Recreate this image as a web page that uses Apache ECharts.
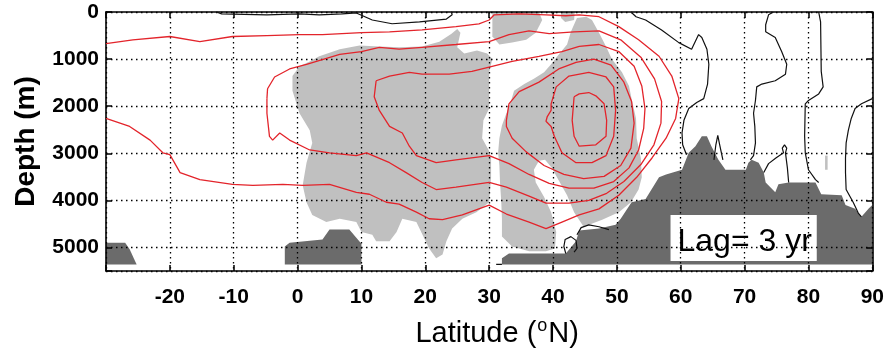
<!DOCTYPE html>
<html><head><meta charset="utf-8">
<script src="https://cdn.jsdelivr.net/npm/echarts@6/dist/echarts.min.js"></script>
<style>html,body{margin:0;padding:0;background:#fff}#c{width:887px;height:356px}</style>
</head><body><div id="c"></div>
<script>
// ---- axes ----
const latRange = [-30, 90];
const latStep = 10;
const depthRange = [0, 5500];
const depthStep = 1000;
const lagLabel = 'Lag= 3 yr';
const lagBox = [[58.4, 4310], [81.3, 5290]];

// ---- light grey shading (significant regions) [lat, depth] ----
const shadeA = [[-0.8,1360],[0.3,1150],[1.9,1050],[3.4,940],[6.6,790],[9.7,710],[12.8,730],[15.9,750],[19.5,730],[22.2,630],[24.1,460],[25.0,360],[25.5,440],[25.0,750],[26.1,880],[28.1,820],[29.7,880],[30.5,1000],[30.0,1280],[30.0,2050],[29.1,2300],[28.9,2680],[30.0,2950],[30.3,3100],[30.3,3510],[30.0,4040],[28.0,4250],[25.8,4390],[24.2,4600],[23.3,4870],[22.7,5150],[21.7,5230],[20.6,5020],[18.6,4460],[16.4,4390],[15.5,4670],[14.4,4870],[12.3,4870],[11.7,4730],[10.0,4670],[9.2,4460],[6.6,4390],[4.5,4460],[2.3,4310],[1.4,4040],[0.8,3680],[1.4,3200],[2.3,2780],[1.9,2510],[0.3,2150],[-0.8,1670]];
const shadeB = [[43.75,130],[45.2,100],[46.1,170],[47.2,440],[48.3,730],[49.2,1000],[50.8,1280],[51.9,1570],[52.3,1840],[53.0,2260],[53.1,2680],[53.75,3100],[53.9,3510],[53.4,3770],[52.2,4040],[50.3,4250],[47.7,4410],[44.8,4560],[43.3,4250],[42.2,3890],[40.9,3580],[39.8,3310],[38.75,3140],[37.8,3160],[37.0,3350],[37.3,3620],[38.6,3930],[39.7,4250],[40.5,4670],[40.3,5020],[38.9,5080],[36.25,5080],[33.6,4980],[32.0,4770],[32.0,4390],[31.9,4040],[31.7,3620],[31.6,3260],[31.4,2990],[31.6,2680],[32.0,2410],[32.7,2150],[33.4,1900],[33.9,1670],[35.5,1530],[37.0,1420],[38.6,1280],[39.7,1110],[40.9,900],[42.2,690],[42.8,420]];
const shadeC = [[30.5,0],[37.8,0],[38.3,170],[37.3,440],[35.8,590],[33.6,650],[31.6,690],[30.5,520]];
const shadeD = [[41.25,0],[43.4,0],[43.3,170],[41.9,210],[41.25,130]];
const shadeE = [[82.6,3050],[83.0,3050],[83.0,3350],[82.6,3350]];

// ---- dark grey bottom topography ----
const topoA = [[-30,4900],[-27.0,4900],[-26.3,5040],[-25.2,5360],[-30,5360]];
const topoB = [[-2.0,5360],[-2.0,4980],[-1.25,4900],[2.3,4850],[3.9,4830],[5.0,4620],[8.1,4620],[10.0,4920],[10.0,5360]];
const topoC = [[32.0,5360],[32.0,5230],[33.1,5130],[42.0,5130],[43.6,4870],[44.1,4640],[47.2,4600],[49.8,4520],[50.6,4390],[52.3,4040],[54.5,3970],[56.6,3510],[57.7,3450],[60.2,3350],[61.25,2990],[62.3,2850],[63.3,2640],[64.1,2640],[64.8,2850],[65.9,3140],[67.0,3350],[70.2,3350],[70.6,3200],[71.1,3140],[72.2,3200],[73.0,3410],[73.3,3620],[74.8,3830],[75.3,3660],[76.9,3620],[81.1,3620],[82.0,3870],[85.2,3890],[85.8,4100],[87.3,4180],[88.3,4350],[89.4,4180],[90,4100],[90,5360]];

// ---- red contours ----
const red1 = [[43.3,1800],[44.1,1740],[45.6,1710],[46.7,1780],[48.0,1950],[48.4,2300],[48.3,2640],[46.7,2820],[44.1,2850],[43.3,2640],[43.0,2300],[43.3,1800]];
const red2 = [[39.7,1950],[40.5,1590],[42.5,1360],[45.6,1280],[48.3,1380],[49.5,1590],[49.8,2090],[49.5,2640],[48.3,3050],[46.1,3200],[43.6,3200],[41.4,2990],[40.2,2640],[39.7,2430],[38.9,2320],[39.1,2220],[39.7,2090],[39.7,1950]];
const red3 = [[32.7,2300],[33.1,1950],[34.7,1690],[37.8,1490],[40.9,1210],[43.6,1070],[46.4,1000],[49.1,1130],[51.1,1490],[52.3,1900],[52.7,2360],[52.2,2890],[50.6,3260],[48.0,3490],[44.8,3540],[41.7,3450],[38.6,3260],[35.8,2970],[33.6,2680],[32.7,2430],[32.7,2300]];
const red4 = [[12.3,1460],[14.4,1360],[17.5,1280],[19.5,1320],[23.75,1320],[27.3,1260],[30.0,1170],[33.6,1050],[37.8,940],[41.4,840],[44.1,730],[47.2,690],[50.3,840],[52.7,1150],[53.9,1570],[54.4,2050],[54.2,2470],[53.4,2930],[51.9,3310],[49.5,3600],[46.4,3740],[42.5,3740],[39.4,3640],[36.25,3450],[33.1,3220],[30.0,3050],[24.8,3140],[21.7,3200],[18.6,3050],[17.5,2850],[16.4,2570],[14.4,2430],[12.8,2090],[12.0,1800],[12.3,1460]];
const red5 = [[-4.8,1840],[-4.7,1630],[-3.6,1380],[-1.25,1210],[1.4,1110],[6.6,900],[10.0,840],[12.8,750],[15.9,790],[19.5,750],[24.8,690],[30.0,630],[33.1,480],[36.25,400],[39.4,460],[43.3,420],[47.2,400],[50.6,590],[53.75,960],[55.9,1420],[57.0,1900],[56.9,2360],[55.8,2820],[53.75,3240],[51.1,3600],[48.4,3850],[45.6,4000],[42.5,4060],[38.9,4060],[36.25,3910],[32.7,3720],[30.0,3620],[24.8,3720],[21.7,3770],[19.5,3620],[17.0,3410],[14.4,3200],[10.8,2990],[9.2,3050],[5.0,2990],[1.9,2930],[-1.25,2720],[-2.8,2570],[-3.9,2720],[-4.4,2640],[-4.8,2150],[-4.8,1840]];
const red6 = [[-30,670],[-25.8,590],[-20.0,520],[-15.3,630],[-10.2,520],[-4.8,500],[0.3,480],[3.9,480],[10.0,440],[14.4,420],[19.5,380],[24.8,310],[28.4,250],[30.0,170],[30.8,60],[34.7,40],[38.9,60],[42.0,80],[44.1,60],[47.2,100],[50.3,310],[53.4,590],[56.6,940],[58.6,1360],[59.7,1840],[59.2,2260],[57.7,2680],[55.5,3100],[53.1,3510],[50.3,3890],[47.2,4180],[44.1,4310],[41.4,4460],[38.9,4600],[36.25,4460],[32.7,4290],[30.0,4100],[25.8,4310],[22.7,4410],[20.6,4390],[18.6,4250],[15.9,4080],[13.9,4040],[11.25,3870],[9.2,3830],[5.0,3660],[0.8,3680],[-2.3,3660],[-7.0,3680],[-10.2,3660],[-15.3,3560],[-18.4,3410],[-20.0,3030],[-21.1,2990],[-23.1,2720],[-26.3,2430],[-30,2260]];

// ---- black contours ----
const blk1 = [[-12.7,0],[-11.9,40],[-4.8,60],[0.3,40],[3.4,60],[7.0,40],[9.2,20],[11.7,170],[14.8,250],[19.1,210],[23.3,150],[24.2,60],[24.1,0]];
const blk2 = [[52.2,0],[53.0,100],[54.5,170],[57.0,380],[59.7,650],[61.7,790],[62.8,480],[63.3,540],[64.1,790],[64.4,1110],[64.2,1530],[63.6,1840],[62.5,1920],[61.25,2050],[60.5,2300],[60.2,2570],[60.3,2820],[60.9,3030]];
const blk3 = [[65.2,3140],[65.5,2820],[65.8,2620],[66.1,2820],[66.6,3140]];
const blk4 = [[74.5,0],[73.75,60],[73.3,270],[73.3,420],[74.8,540],[75.8,840],[76.6,1110],[76.4,1320],[74.8,1460],[72.7,1530],[71.9,1590],[71.7,1880],[71.4,2150],[71.6,2430],[71.7,2780],[71.4,3050],[70.9,3140]];
const blk5 = [[73.0,3410],[73.75,3220],[74.9,3100],[76.1,2990],[75.9,2890],[76.25,2820],[76.6,2890],[76.4,2990],[76.7,3310],[76.9,3620]];
const blk6 = [[81.6,0],[81.9,210],[82.0,1260],[82.3,1590],[81.6,1740],[80.0,1880],[79.5,1950],[79.4,2640],[79.5,2990],[80.0,3350],[81.1,3560],[81.6,3620]];
const blk7 = [[90,1840],[88.3,1950],[87.3,2050],[86.7,2260],[86.25,2510],[85.9,2780],[85.8,3100],[85.8,3410],[85.9,3770],[87.0,4040],[87.8,4270],[88.3,4350]];
const blk8 = [[42.0,5130],[41.7,4980],[41.9,4830],[42.8,4770],[43.6,4850],[43.75,5020],[43.3,5100]];
const blk9 = [[43.75,4730],[44.4,4580],[45.6,4520],[47.2,4560],[48.75,4620]];
const blk10 = [[31.1,5360],[32.0,5360]];

const lightShades = [shadeA, shadeB, shadeC, shadeD, shadeE];
const darkShades = [topoA, topoB, topoC];
const redContours = [red1, red2, red3, red4, red5, red6];
const blackContours = [blk1, blk2, blk3, blk4, blk5, blk6, blk7, blk8, blk9, blk10];

const FONT = '"Liberation Sans", Arial, Helvetica, sans-serif';

function polygonSeries(pts, color, z) {
  return {
    type: 'custom', silent: true, z: z, animation: false,
    data: [pts[0]],
    renderItem: function (params, api) {
      return { type: 'polygon', shape: { points: pts.map(p => api.coord(p)) }, style: { fill: color } };
    }
  };
}
function lineSeries(pts, color, width, z) {
  return {
    type: 'line', data: pts, silent: true, z: z, animation: false,
    showSymbol: false, symbol: 'none',
    lineStyle: { color: color, width: width }
  };
}

const series = [];
lightShades.forEach(p => series.push(polygonSeries(p, '#c0c0c0', 1)));
darkShades.forEach(p => series.push(polygonSeries(p, '#6b6b6b', 1.5)));
series.push({
  type: 'custom', silent: true, z: 2, animation: false, data: [lagBox[0]],
  renderItem: function (params, api) {
    const a = api.coord(lagBox[0]), b = api.coord(lagBox[1]);
    return { type: 'group', children: [
      { type: 'rect', shape: { x: a[0], y: a[1], width: b[0] - a[0], height: b[1] - a[1] }, style: { fill: '#ffffff' } },
      { type: 'text', style: { text: lagLabel, x: (a[0] + b[0]) / 2 + 1, y: (a[1] + b[1]) / 2 + 4, align: 'center', verticalAlign: 'middle', fontSize: 32, fontFamily: FONT, fill: '#000' } }
    ] };
  }
});
blackContours.forEach(p => series.push(lineSeries(p, '#111111', 1.2, 4)));
redContours.forEach(p => series.push(lineSeries(p, '#e3242b', 1.3, 4)));

const gridDots = { show: true, lineStyle: { color: '#000', width: 1.3, type: [1.5, 3.5] } };
const frameLine = { show: true, onZero: false, lineStyle: { color: '#000', width: 1.6 } };
const innerTick = { show: true, inside: true, length: 6, lineStyle: { color: '#000', width: 1.5 } };

const chart = echarts.init(document.getElementById('c'), null, { renderer: 'canvas' });
chart.setOption({
  animation: false,
  backgroundColor: '#fff',
  grid: { left: 106, right: 13, top: 12, bottom: 80, containLabel: false },
  xAxis: [
    { type: 'value', min: latRange[0], max: latRange[1], interval: latStep, position: 'bottom', z: 3,
      axisLine: frameLine, axisTick: innerTick, splitLine: gridDots,
      axisLabel: { margin: 16, color: '#000', fontSize: 21, fontWeight: 'bold', fontFamily: FONT,
        formatter: v => (v === latRange[0] ? '' : String(v)) },
      name: '{a|Latitude (}{s|o}{a|N)}', nameLocation: 'middle', nameGap: 46,
      nameTextStyle: { padding: [0, 0, 0, 16], rich: {
        a: { fontSize: 29, fontFamily: FONT, color: '#000', lineHeight: 34 },
        s: { fontSize: 18, fontFamily: FONT, color: '#000', lineHeight: 34, padding: [0, 1, 16, 1] } } } },
    { type: 'value', min: latRange[0], max: latRange[1], interval: latStep, position: 'top', z: 3,
      axisLine: frameLine, axisTick: innerTick, splitLine: { show: false }, axisLabel: { show: false } }
  ],
  yAxis: [
    { type: 'value', inverse: true, min: depthRange[0], max: depthRange[1], interval: depthStep, position: 'left', z: 3,
      axisLine: frameLine, axisTick: innerTick, splitLine: gridDots,
      axisLabel: { margin: 7, color: '#000', fontSize: 21, fontWeight: 'bold', fontFamily: FONT,
        formatter: v => (v % depthStep === 0 ? String(v) : '') },
      name: 'Depth (m)', nameLocation: 'middle', nameGap: 66,
      nameTextStyle: { fontSize: 28, fontWeight: 'bold', fontFamily: FONT, color: '#000' } },
    { type: 'value', inverse: true, min: depthRange[0], max: depthRange[1], interval: depthStep, position: 'right', z: 3,
      axisLine: frameLine, axisTick: innerTick, splitLine: { show: false }, axisLabel: { show: false } }
  ],
  series: series
});
</script></body></html>
